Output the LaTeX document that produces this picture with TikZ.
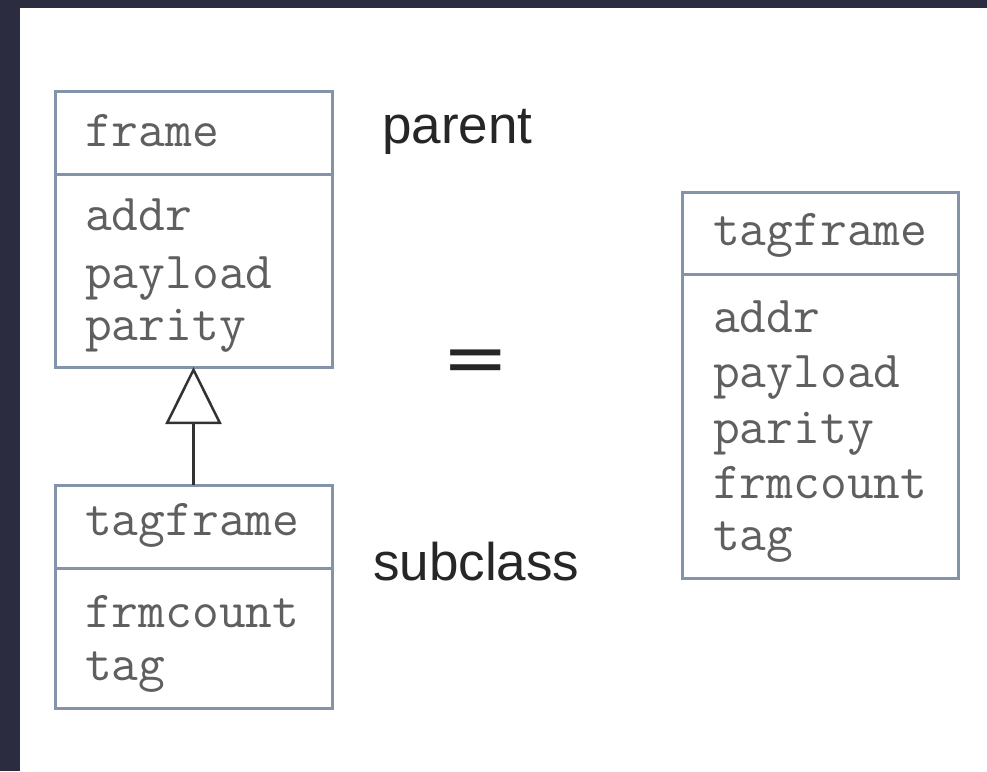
\documentclass[tikz,border=0pt]{standalone}
\usepackage{fontspec}
\usepackage{graphicx}
\setmainfont{Liberation Sans}
\usetikzlibrary{arrows.meta}
\definecolor{bgdark}{RGB}{43,44,64}
\definecolor{boxline}{RGB}{132,148,168}
\definecolor{monoc}{RGB}{95,95,95}
\definecolor{arrowc}{RGB}{50,50,50}
\begin{document}
\begin{tikzpicture}[x=1pt,y=-1pt,
  box/.style={draw=boxline, line width=3pt, fill=white, rectangle, inner sep=0pt, outer sep=0pt, anchor=north west},
  mono/.style={font=\fontsize{52}{52}\selectfont\ttfamily, text=monoc, anchor=base west, inner sep=0pt},
  lbl/.style={font=\fontsize{53}{53}\selectfont, text=black!85, anchor=base west, inner sep=0pt},
  inherit/.style={draw=arrowc, line width=3pt, -{Triangle[open, length=57pt, width=56pt, line width=2.5pt]}}]
\useasboundingbox (0,0) rectangle (987,771);
\fill[bgdark] (0,0) rectangle (987,771);
\fill[white] (20,8) rectangle (987,771);
% parent class
\node[box, minimum width=277pt, minimum height=83pt] (frameH) at (55,91) {};
\node[box, minimum width=277pt, minimum height=193pt] (frameB) at (55,174) {};
% subclass
\node[box, minimum width=277pt, minimum height=83pt] (tagH) at (55,485) {};
\node[box, minimum width=277pt, minimum height=140pt] (tagB) at (55,568) {};
% result class
\node[box, minimum width=276pt, minimum height=82pt] (resH) at (682,192) {};
\node[box, minimum width=276pt, minimum height=304pt] (resB) at (682,274) {};
% texts
\node[mono] (f0) at (85,146) {frame};
\node[mono] (f1) at (85,230) {addr};
\node[mono] (f2) at (85,288) {payload};
\node[mono] (f3) at (85,340) {parity};
\node[mono] (s0) at (85,535) {tagframe};
\node[mono] (s1) at (85,627) {frmcount};
\node[mono] (s2) at (85,680) {tag};
\node[mono] (r0) at (713,245) {tagframe};
\node[mono] (r1) at (713,332) {addr};
\node[mono] (r2) at (713,387) {payload};
\node[mono] (r3) at (713,443) {parity};
\node[mono] (r4) at (713,498) {frmcount};
\node[mono] (r5) at (713,550) {tag};
\node[lbl] (parent) at (382,143) {parent};
\node[lbl] (subclass) at (373,580) {subclass};
\node[font=\fontsize{100}{100}\selectfont\bfseries, text=black!85, anchor=base, inner sep=0pt] (eq) at (476,378) {\scalebox{1}[0.55]{=}};
% inheritance arrow
\draw[inherit] (tagH.north) -- (frameB.south);
\end{tikzpicture}
\end{document}
